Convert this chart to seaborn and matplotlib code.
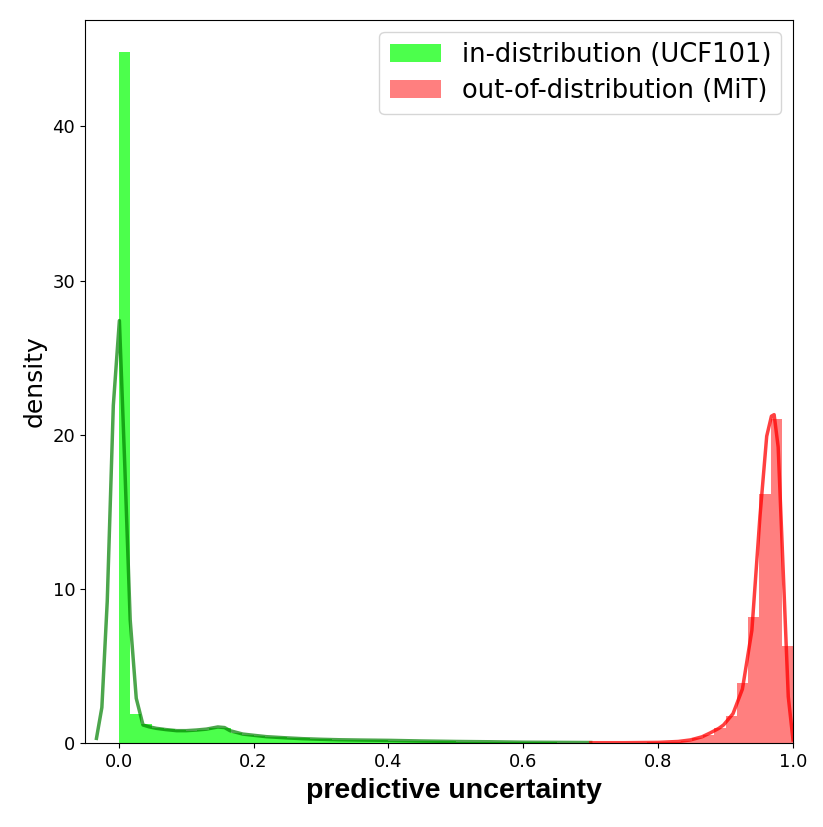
import numpy as np
import pandas as pd
import matplotlib
matplotlib.use("Agg")
import matplotlib.pyplot as plt
import seaborn as sns

# ---- data ----
n_bins = 60
bin_range = (0.0, 1.0)

# in-distribution histogram densities, bins 0..41 (0.0 - 0.7)
ind_hist = [44.8, 1.86, 1.21, 1.0, 0.9, 0.82, 0.8, 0.82, 0.95, 0.98,
            0.68, 0.55, 0.47, 0.42, 0.38, 0.33, 0.30, 0.27, 0.24, 0.22,
            0.20, 0.19, 0.18, 0.17, 0.15, 0.14, 0.13, 0.12, 0.11, 0.10,
            0.09, 0.08, 0.07, 0.07, 0.06, 0.05, 0.05, 0.04, 0.04, 0.03,
            0.03, 0.03]
# out-of-distribution histogram densities, bins 42..59 (0.7 - 1.0)
ood_hist = [0.02, 0.02, 0.02, 0.03, 0.03, 0.04, 0.06, 0.09, 0.15, 0.3,
            0.5, 0.95, 1.77, 3.9, 8.2, 16.15, 21.0, 6.3]

# KDE curves
ind_kde_x = [-0.033, -0.025, -0.017, -0.008, 0.001, 0.009, 0.017, 0.026, 0.036, 0.045,
             0.056, 0.07, 0.086, 0.1, 0.115, 0.13, 0.147, 0.157, 0.165, 0.184,
             0.2, 0.219, 0.25, 0.273, 0.3, 0.328, 0.36, 0.402, 0.45, 0.5,
             0.55, 0.6, 0.65, 0.7]
ind_kde_y = [0.3, 2.3, 9.2, 21.9, 27.4, 18.0, 8.0, 2.9, 1.17, 1.05,
             0.95, 0.87, 0.8, 0.8, 0.84, 0.9, 1.04, 1.0, 0.8, 0.58,
             0.5, 0.41, 0.33, 0.28, 0.24, 0.21, 0.19, 0.17, 0.13, 0.1,
             0.08, 0.05, 0.04, 0.03]
ood_kde_x = [0.70, 0.75, 0.8, 0.83, 0.848, 0.865, 0.877, 0.89, 0.897, 0.911,
             0.925, 0.939, 0.951, 0.961, 0.968, 0.972, 0.978, 0.986, 0.993, 1.0]
ood_kde_y = [0.02, 0.02, 0.04, 0.1, 0.2, 0.4, 0.65, 0.95, 1.17, 1.9,
             3.5, 7.3, 14.7, 19.9, 21.2, 21.3, 19.2, 10.6, 3.0, 0.2]

labels = ["in-distribution (UCF101)", "out-of-distribution (MiT)"]
xticks = [0.0, 0.2, 0.4, 0.6, 0.8, 1.0]
yticks = [0, 10, 20, 30, 40]

# ---- plotting ----
bin_edges = np.linspace(bin_range[0], bin_range[1], n_bins + 1)
centers = (bin_edges[:-1] + bin_edges[1:]) / 2
n_ind = len(ind_hist)
ind_df = pd.DataFrame({"x": centers[:n_ind], "w": ind_hist})
ood_df = pd.DataFrame({"x": centers[n_ind:n_ind + len(ood_hist)], "w": ood_hist})

fig = plt.figure(figsize=(8.23, 8.27), dpi=100)
ax = fig.add_axes([85 / 823, 1 - 743 / 827, (793 - 85) / 823, (743 - 20) / 827])

sns.histplot(data=ind_df, x="x", weights="w", binwidth=1 / n_bins, binrange=bin_range,
             stat="count", color=(0, 1, 0), alpha=0.7, linewidth=0, ax=ax,
             label=labels[0])
sns.histplot(data=ood_df, x="x", weights="w", binwidth=1 / n_bins, binrange=bin_range,
             stat="count", color=(1, 0, 0), alpha=0.5, linewidth=0, ax=ax,
             label=labels[1])

sns.lineplot(x=ind_kde_x, y=ind_kde_y, color="green", alpha=0.7, linewidth=2.5,
             ax=ax, sort=False)
sns.lineplot(x=ood_kde_x, y=ood_kde_y, color="red", alpha=0.75, linewidth=2.5,
             ax=ax, sort=False)

ax.set_xlim(-0.05, 1.0)
ax.set_ylim(0, 46.9)
ax.set_xticks(xticks)
ax.set_yticks(yticks)
ax.tick_params(labelsize=13)

ax.set_xlabel("predictive uncertainty", fontsize=20.5, fontweight="bold",
              family=["Liberation Sans", "DejaVu Sans"], labelpad=8)
ax.xaxis.set_label_coords(0.521, -0.048, transform=ax.transAxes)
ax.xaxis.label.set_va("top")
ax.set_ylabel("density", fontsize=18)

handles, labs = ax.get_legend_handles_labels()
ax.legend(handles[:2], labs[:2], loc="upper right", fontsize=18.5,
          labelspacing=0.4, borderaxespad=0.45)

fig.savefig("out.png", dpi=100)
